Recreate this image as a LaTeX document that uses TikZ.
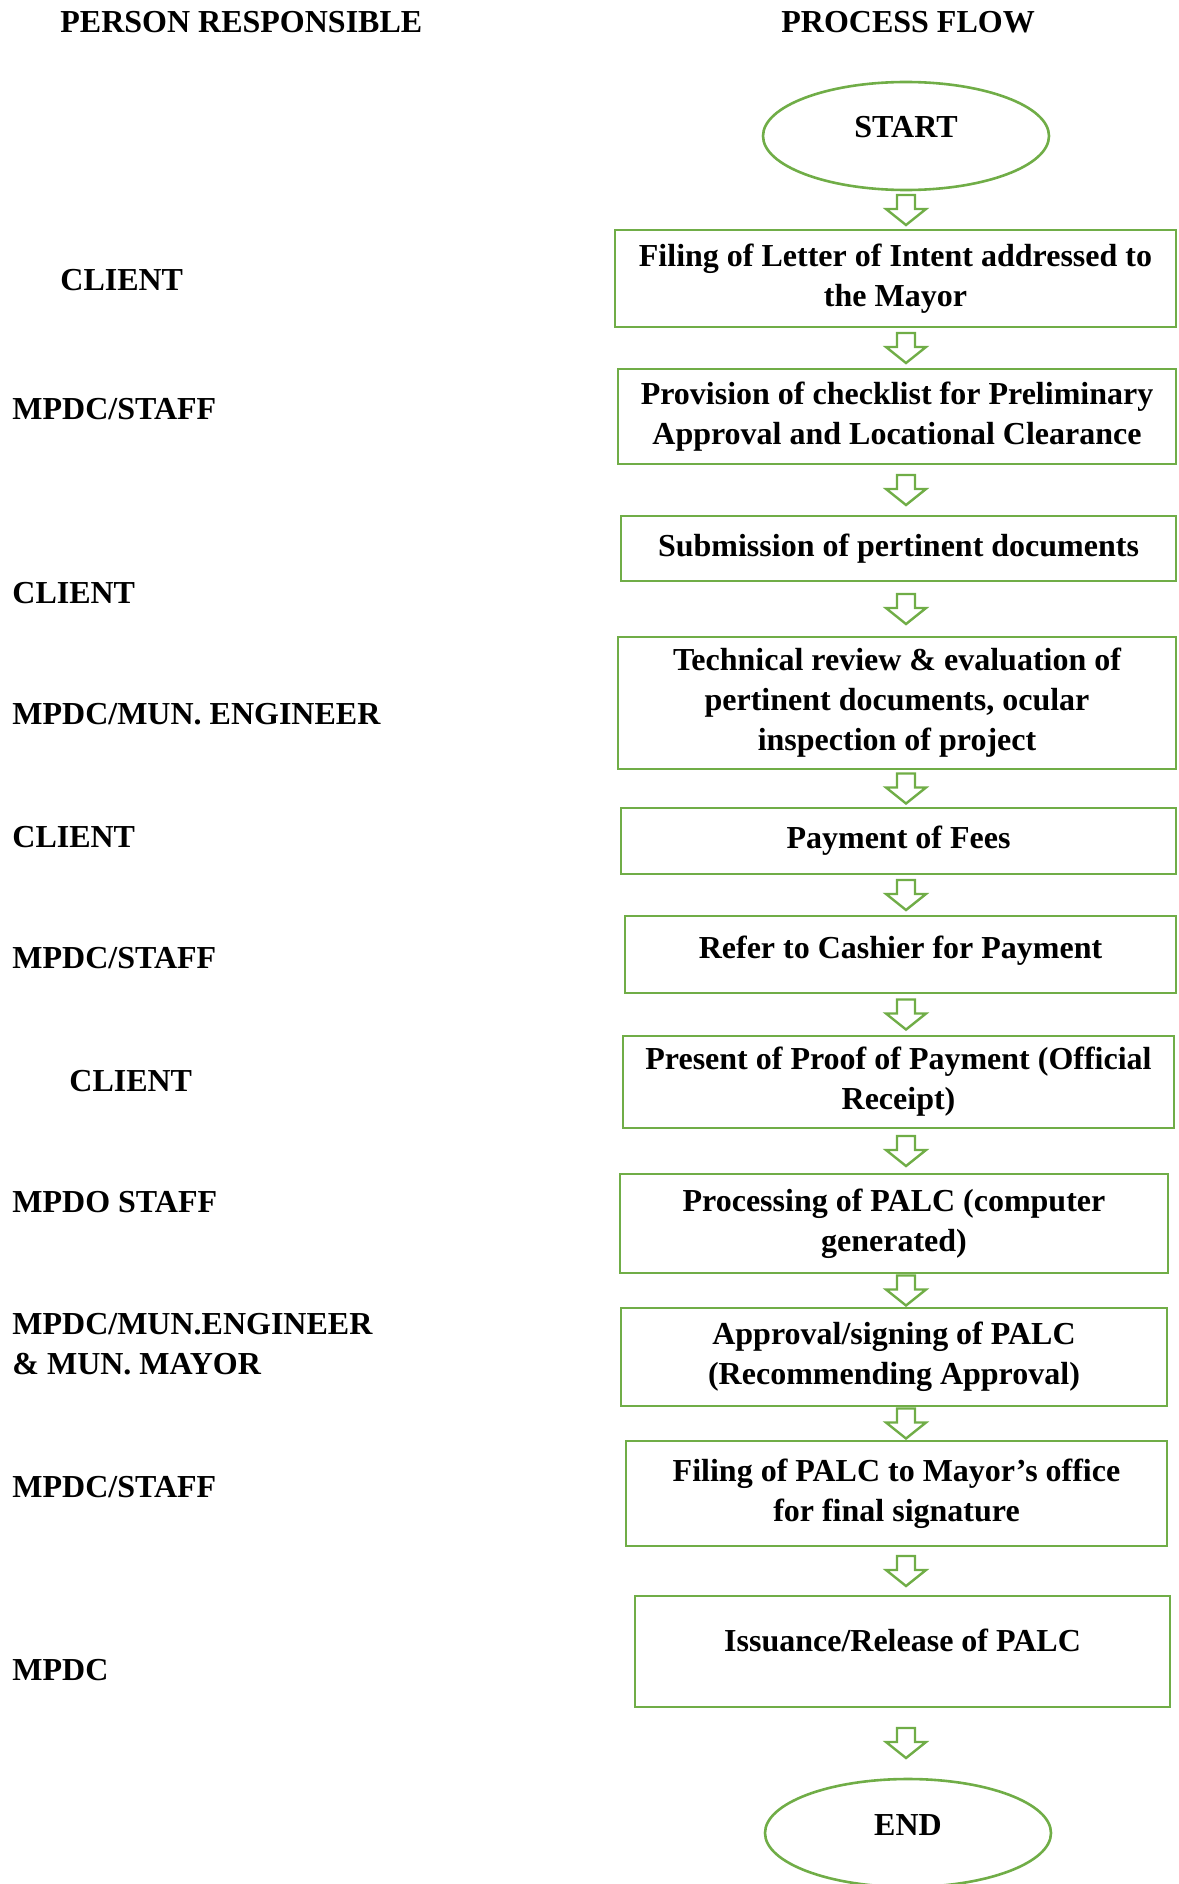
\documentclass[tikz,border=0pt]{standalone}
\usepackage{fontspec}
\setmainfont{Liberation Serif}
\usetikzlibrary{shapes.geometric,calc}
\definecolor{flowgreen}{RGB}{112,173,71}
\begin{document}
\begin{tikzpicture}[x=0.5pt,y=-0.5pt,line join=miter,
	every node/.style={font=\bfseries\fontsize{16}{20}\selectfont},
	stepbox/.style={draw=flowgreen,line width=1.3pt,rectangle,align=center,inner sep=0pt},
	terminal/.style={draw=flowgreen,line width=1.3pt,ellipse,inner sep=0pt,minimum width=143pt,minimum height=54pt,text height=11pt,text depth=9pt},
	who/.style={anchor=west,align=left,inner sep=0pt},
	blockarr/.pic={\draw[flowgreen,line width=1.2pt] (-9,-15) -- (9,-15) -- (9,-1) -- (20,-1) -- (0,15) -- (-20,-1) -- (-9,-1) -- cycle;}]
	\useasboundingbox (0,0) rectangle (1178,1884);
	% headings
	\node[who] (hperson) at (60,22) {PERSON RESPONSIBLE};
	\node[who] (hflow) at (781,22) {PROCESS FLOW};
	% process flow
	\node[terminal] (start) at (906,136) {START};
	\node[stepbox,minimum width=280.5pt,minimum height=48.5pt] (s1) at (895.5,278.5) {Filing of Letter of Intent addressed to\\the Mayor};
	\node[stepbox,minimum width=279pt,minimum height=47.5pt] (s2) at (897,416.5) {Provision of checklist for Preliminary\\Approval and Locational Clearance};
	\node[stepbox,minimum width=277.5pt,minimum height=32.5pt] (s3) at (898.5,548.5) {Submission of pertinent documents};
	\node[stepbox,minimum width=279pt,minimum height=66pt] (s4) at (897,703) {Technical review \& evaluation of\\pertinent documents, ocular\\inspection of project};
	\node[stepbox,minimum width=277.5pt,minimum height=33pt] (s5) at (898.5,841) {Payment of Fees};
	\node[stepbox,minimum width=275.5pt,minimum height=38.5pt,text depth=7.5pt] (s6) at (900.5,954.5) {Refer to Cashier for Payment};
	\node[stepbox,minimum width=275.5pt,minimum height=46pt] (s7) at (898.5,1082) {Present of Proof of Payment (Official\\Receipt)};
	\node[stepbox,minimum width=274pt,minimum height=49.5pt] (s8) at (894,1223.5) {Processing of PALC (computer\\generated)};
	\node[stepbox,minimum width=273pt,minimum height=49pt] (s9) at (894,1357) {Approval/signing of PALC\\(Recommending Approval)};
	\node[stepbox,minimum width=270.5pt,minimum height=52.5pt] (s10) at (896.5,1493.5) {Filing of PALC to Mayor’s office\\for final signature};
	\node[stepbox,minimum width=267.5pt,minimum height=55.5pt,text depth=11pt] (s11) at (902.5,1651.5) {Issuance/Release of PALC};
	\node[terminal] (finish) at (908,1833) {END};
	% block arrows between the steps
	\foreach \a/\b in {start/s1,s1/s2,s2/s3,s3/s4,s4/s5,s5/s6,s6/s7,s7/s8,s8/s9,s9/s10,s10/s11,s11/finish}{
		\coordinate (mid) at ($(\a.south)!0.5!(\b.north)$);
		\pic at (start |- mid) {blockarr};
	}
	% person responsible
	\node[who] (p1) at (60,280) {CLIENT};
	\node[who] (p2) at (12,409) {MPDC/STAFF};
	\node[who] (p3) at (12,593) {CLIENT};
	\node[who] (p4) at (12,714) {MPDC/MUN. ENGINEER};
	\node[who] (p5) at (12,837) {CLIENT};
	\node[who] (p6) at (12,958) {MPDC/STAFF};
	\node[who] (p7) at (69,1081) {CLIENT};
	\node[who] (p8) at (12,1202) {MPDO STAFF};
	\node[who] (p9) at (12,1344.5) {MPDC/MUN.ENGINEER\\\& MUN. MAYOR};
	\node[who] (p10) at (12,1487) {MPDC/STAFF};
	\node[who] (p11) at (12,1670) {MPDC};
\end{tikzpicture}
\end{document}
